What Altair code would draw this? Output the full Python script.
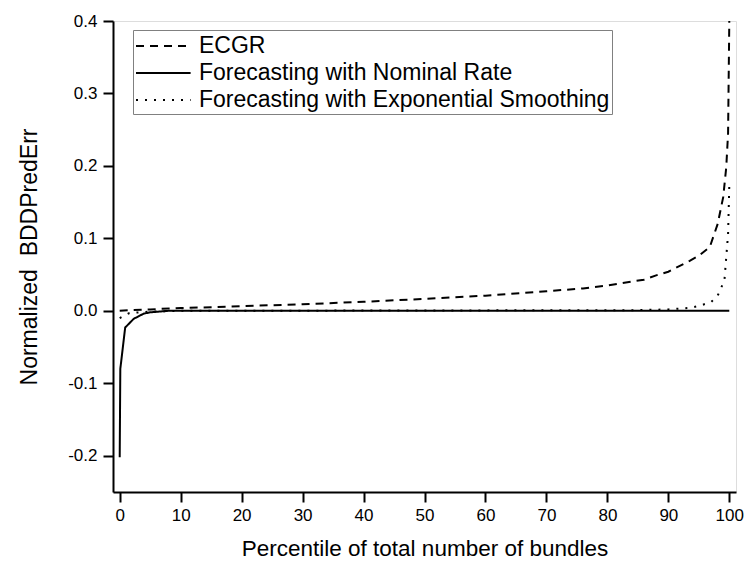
import altair as alt
import pandas as pd

# ---- data ----
series_names = ["ECGR", "Forecasting with Nominal Rate", "Forecasting with Exponential Smoothing"]

ecgr_x = [0, 2, 5, 10, 15, 20, 30, 40, 50, 60, 70, 76, 80, 86, 88, 90, 93.5, 95, 96.8, 98.1, 99, 99.5, 99.8, 100]
ecgr_y = [0.0, 0.001, 0.002, 0.004, 0.005, 0.0065, 0.009, 0.0125, 0.0165, 0.021, 0.027, 0.031, 0.035,
          0.043, 0.049, 0.054, 0.069, 0.076, 0.088, 0.12, 0.157, 0.198, 0.245, 0.40]

nominal_x = [0, 0.1, 0.9, 2.3, 3.9, 5, 8, 100]
nominal_y = [-0.202, -0.08, -0.023, -0.011, -0.004, -0.002, 0.0, 0.0]

expo_x = [0, 1.6, 5, 10, 50, 85, 90, 93.5, 95.1, 97, 98.1, 99.2, 99.8, 100]
expo_y = [-0.01, -0.003, -0.001, 0.0, 0.0005, 0.001, 0.002, 0.004, 0.007, 0.012, 0.021, 0.042, 0.106, 0.173]

x_ticks = [0, 10, 20, 30, 40, 50, 60, 70, 80, 90, 100]
y_ticks = [-0.2, -0.1, 0.0, 0.1, 0.2, 0.3, 0.4]

rows = []
for name, xs, ys in [(series_names[0], ecgr_x, ecgr_y),
                     (series_names[1], nominal_x, nominal_y),
                     (series_names[2], expo_x, expo_y)]:
    for i, (xv, yv) in enumerate(zip(xs, ys)):
        rows.append({"series": name, "x": xv, "y": yv, "order": i})
df = pd.DataFrame(rows)

FONT = "Liberation Sans"

chart = alt.Chart(df).mark_line(strokeWidth=2, color="black", clip=True).encode(
    x=alt.X("x:Q",
            scale=alt.Scale(domain=[-1.1, 101.1], nice=False, zero=False),
            axis=alt.Axis(values=x_ticks, format="d", title="Percentile of total number of bundles",
                          grid=False, domainColor="black", domainWidth=2, tickColor="black",
                          tickWidth=2, tickSize=10, labelPadding=5, labelFontSize=17,
                          labelColor="black", labelFont=FONT, titleFont=FONT, titleFontSize=22.5,
                          titleFontWeight="normal", titleColor="black", titlePadding=14)),
    y=alt.Y("y:Q",
            scale=alt.Scale(domain=[-0.25, 0.4], nice=False, zero=False),
            axis=alt.Axis(values=y_ticks,
                          labelExpr="datum.value < -0.0001 ? '-' + format(-datum.value, '.1f') : format(datum.value, '.1f')",
                          title="Normalized\u00a0\u00a0BDDPredErr",
                          grid=False, domainColor="black", domainWidth=2, tickColor="black",
                          tickWidth=2, tickSize=10, labelPadding=6, labelFontSize=17,
                          labelColor="black", labelFont=FONT, titleFont=FONT, titleFontSize=23,
                          titleFontWeight="normal", titleColor="black", titlePadding=26)),
    strokeDash=alt.StrokeDash("series:N",
                              scale=alt.Scale(domain=series_names, range=[[8, 6], [1, 0], [2, 7]]),
                              sort=series_names,
                              legend=alt.Legend(title=None, orient="none", legendX=20, legendY=9,
                                                fillColor="white", strokeColor="#808080",
                                                padding=2, symbolType="M-1,0H3.2", symbolSize=676,
                                                symbolStrokeWidth=2, symbolStrokeColor="black",
                                                labelFont=FONT, labelFontSize=23, labelColor="black",
                                                labelOffset=36, rowPadding=1, labelLimit=600)),
    order="order:Q",
).properties(
    width=623, height=471,
    padding={"left": 113, "top": 21, "right": 12, "bottom": 72},
    autosize=alt.AutoSizeParams(type="none"),
).configure_view(stroke=None).configure(background="white")

chart.save("out.html", embed_options={"renderer": "svg", "actions": False})
